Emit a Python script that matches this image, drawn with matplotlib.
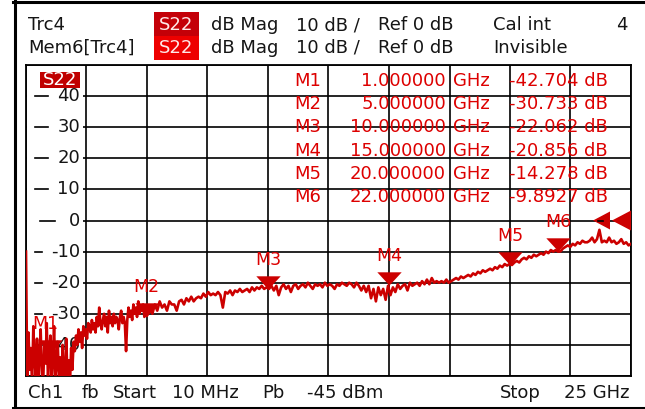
import numpy as np
import matplotlib
matplotlib.use("Agg")
import matplotlib.pyplot as plt
import matplotlib.transforms as mtransforms
from matplotlib.patches import Rectangle, Polygon
from matplotlib.lines import Line2D

plt.rcParams['font.family'] = ['DejaVu Sans']

# S22 trace (dB); low band 10 MHz .. 5 GHz (noisy part)
low_db = [
    -10,
    -52, -36, -48, -41, -53, -34, -45, -50, -38, -52, -44, -35, -49, -53,
    -40, -46, -33, -51, -42.7, -37, -53, -45, -34, -50, -47, -39, -52,
    -44, -53, -40, -49, -53, -38, -51, -45, -53, -41, -48, -39,
    -42, -37, -40, -35, -39, -36, -41, -34, -37, -35, -38, -33,
    -34, -36, -32, -35, -33, -36, -31, -34, -28, -33, -35, -32, -30, -34,
    -31, -36, -29, -33, -31, -34, -30, -33, -31, -32, -35, -31, -29, -33,
    -31, -33, -42, -32, -28, -31, -29, -32, -27, -30,
    -28, -31, -26, -30, -28, -29, -27, -31, -28, -30.7,
]
low_freq = np.linspace(0.01, 5.0, len(low_db))

# high band 5.13 GHz .. 25 GHz
high_db = [
    -28, -30, -27, -29, -26, -28, -27, -29, -26, -27,
    -27, -29, -26, -25.5, -27, -25, -26, -24.5, -26, -25,
    -24.5, -25, -23.5, -24.5, -23, -24, -23.5, -24, -23, -24,
    -28, -23, -23.5, -22.5, -24, -22.5, -23, -22, -23, -22.5,
    -22, -23, -21.5, -22.5, -21.5, -22, -21, -22, -21.5, -22,
    -21, -22.5, -21, -24, -21.5, -20.5, -22, -21, -23, -21,
    -20.5, -22, -21, -20.5, -21.5, -20, -21, -22, -20.5, -21,
    -20.5, -21.5, -20, -21, -20.5, -21, -22, -20.5, -21, -20,
    -20.5, -21, -20, -20.5, -21.5, -20, -21, -22.5, -21, -23,
    -21, -25, -22, -26, -21.5, -24, -22, -25.5, -21, -24,
    -21.5, -23, -20.5, -22, -21, -20.5, -22.5, -20, -21, -20.5,
    -20, -21, -19.5, -20.5, -19, -20.5, -18.5, -20, -19.5, -20,
    -19.5, -20, -19, -20, -19.5, -19, -18.5, -19, -18, -18.5,
    -18, -17.5, -18, -17, -17.5, -16.5, -17, -16, -16.5, -16,
    -15.5, -16, -15, -15.5, -14.5, -15, -14, -14.5, -14, -14.3,
    -13.5, -13, -13.5, -12.5, -12, -12.5, -11.5, -12, -11, -11.5,
    -11, -10.5, -11, -10, -10.5, -9.5, -10, -9.5, -10, -9.9,
    -9, -8.5, -8, -8.5, -7.5, -8, -7, -7.5, -6.5, -7,
    -7, -6.5, -5.5, -7, -6, -3, -7, -6.5, -7, -5.5,
    -7, -6.5, -7.5, -7, -6, -7.5, -7, -8, -7.5,
]
high_freq = np.linspace(5.13, 25, len(high_db))

marker_names = ["M1", "M2", "M3", "M4", "M5", "M6"]
marker_freq = [1, 5, 10, 15, 20, 22]
marker_db = [-42.704, -30.733, -22.062, -20.856, -14.278, -9.8927]
marker_freq_txt = ["1.000000", "5.000000", "10.000000", "15.000000", "20.000000", "22.000000"]
marker_db_txt = ["-42.704 dB", "-30.733 dB", "-22.062 dB", "-20.856 dB", "-14.278 dB", "-9.8927 dB"]

y_labels = [40, 30, 20, 10, 0, -10, -20, -30, -40]

W, H = 645, 409
def fx(px):
    return px / W
def fy(py):
    return 1 - py / H

RED = '#cc0000'
TXT_RED = '#dd0000'
FS = 13

fig = plt.figure(figsize=(6.45, 4.09), dpi=100)
ax = fig.add_axes([fx(26), fy(376), fx(631) - fx(26), fy(65) - fy(376)])
ax.set_xlim(0.01, 25)
ax.set_ylim(-50, 50)
ax.set_xticks(np.linspace(0.01, 25, 11))
ax.set_yticks(np.arange(-50, 51, 10))
ax.tick_params(length=0, labelbottom=False, labelleft=False)
ax.grid(color='black', lw=1.2, zorder=1)
ax.set_axisbelow(True)
for sp in ax.spines.values():
    sp.set_linewidth(1.3)

blend = mtransforms.blended_transform_factory(ax.transAxes, ax.transData)
def axx(px):
    return (px - 26) / 605.0

# y labels inside the grid
for v in y_labels:
    ax.add_patch(Rectangle((axx(27), v - 2.0), axx(83) - axx(27), 4.0,
                           transform=blend, facecolor='white', edgecolor='none', zorder=2))
    if v > 0:
        d0, d1 = 35, 48
    elif v == 0:
        d0, d1 = 40, 55
    else:
        d0, d1 = 35, 42
    ax.plot([axx(d0), axx(d1)], [v, v], color='black', lw=1.2, transform=blend, zorder=2)
    ax.text(axx(80), v, str(v), transform=blend, ha='right', va='center',
            fontsize=FS, color='#151515', zorder=3)

# trace
ax.plot(np.concatenate([low_freq, high_freq]), low_db + high_db, color=RED, lw=1.9, zorder=4)

# markers
tri = [(-12, 13), (12, 13), (0, 0), (-12, 13)]
ax.plot(marker_freq, marker_db, ls='none', marker=tri, ms=19, color=RED,
        markeredgewidth=0, zorder=5)
for name, f, d in zip(marker_names, marker_freq, marker_db):
    dx = -3 if name == "M1" else 0
    ax.annotate(name, (f, d), xytext=(dx, 21), textcoords='offset points',
                ha='center', va='center', fontsize=12.5, color=TXT_RED, zorder=6)

# reference level arrows at 0 dB
ax.add_patch(Polygon([(axx(593), 0.5), (axx(610), 0.5 + 9 / 311), (axx(610), 0.5 - 9 / 311)],
                     closed=True, transform=ax.transAxes, facecolor=RED, edgecolor='none', zorder=5))
ax.add_patch(Polygon([(axx(612), 0.5), (axx(631), 0.5 + 10 / 311), (axx(631), 0.5 - 10 / 311)],
                     closed=True, transform=ax.transAxes, facecolor=RED, edgecolor='none',
                     zorder=5, clip_on=False))
ax.plot([axx(598), axx(603)], [0.5, 0.5], color='black', lw=1.2, transform=ax.transAxes, zorder=6)

# S22 tag inside plot
ax.add_patch(Rectangle((axx(40), fy(88)), axx(80) - axx(40), (88 - 72) / H,
                       transform=mtransforms.blended_transform_factory(ax.transAxes, fig.transFigure),
                       facecolor='#c00000', edgecolor='none', zorder=7))
fig.text(fx(60), fy(80), "S22", ha='center', va='center', fontsize=FS, color='white', zorder=8)

# marker table
for i in range(6):
    yc = fy(81 + 23.2 * i)
    fig.text(fx(321), yc, marker_names[i], ha='right', va='center', fontsize=FS, color=TXT_RED)
    fig.text(fx(446), yc, marker_freq_txt[i], ha='right', va='center', fontsize=FS, color=TXT_RED)
    fig.text(fx(453), yc, "GHz", ha='left', va='center', fontsize=FS, color=TXT_RED)
    fig.text(fx(509), yc, marker_db_txt[i], ha='left', va='center', fontsize=FS, color=TXT_RED)

# header
fig.patches.append(Rectangle((fx(154), fy(36)), fx(199) - fx(154), 24 / H, transform=fig.transFigure,
                             facecolor='#c40008', edgecolor='none'))
fig.patches.append(Rectangle((fx(154), fy(60)), fx(199) - fx(154), 24 / H, transform=fig.transFigure,
                             facecolor='#ee0000', edgecolor='none'))
hdr = '#151515'
for row, yc in ((0, fy(25)), (1, fy(48))):
    fig.text(fx(28), yc, ["Trc4", "Mem6[Trc4]"][row], ha='left', va='center', fontsize=FS, color=hdr)
    fig.text(fx(176.5), yc, "S22", ha='center', va='center', fontsize=FS, color='#ffe8e8')
    fig.text(fx(211), yc, "dB Mag", ha='left', va='center', fontsize=FS, color=hdr)
    fig.text(fx(296), yc, "10 dB /", ha='left', va='center', fontsize=FS, color=hdr)
    fig.text(fx(378), yc, "Ref 0 dB", ha='left', va='center', fontsize=FS, color=hdr)
    fig.text(fx(493), yc, ["Cal int", "Invisible"][row], ha='left', va='center', fontsize=FS, color=hdr)
fig.text(fx(628), fy(25), "4", ha='right', va='center', fontsize=FS, color=hdr)

# footer
fy_foot = fy(393)
for x, s in ((28, "Ch1"), (82, "fb"), (113, "Start"), (172, "10 MHz"),
             (262, "Pb"), (307, "-45 dBm"), (500, "Stop")):
    fig.text(fx(x), fy_foot, s, ha='left', va='center', fontsize=FS, color=hdr)
fig.text(fx(630), fy_foot, "25 GHz", ha='right', va='center', fontsize=FS, color=hdr)

# heavy outer frame
fig.add_artist(Line2D([fx(14.5), fx(14.5)], [0, 1], color='black', lw=2.2, transform=fig.transFigure))
fig.add_artist(Line2D([fx(13), 1], [fy(1.5), fy(1.5)], color='black', lw=2.2, transform=fig.transFigure))
fig.add_artist(Line2D([fx(13), 1], [fy(407.5), fy(407.5)], color='black', lw=2.2, transform=fig.transFigure))

fig.savefig("out.png", dpi=100)
